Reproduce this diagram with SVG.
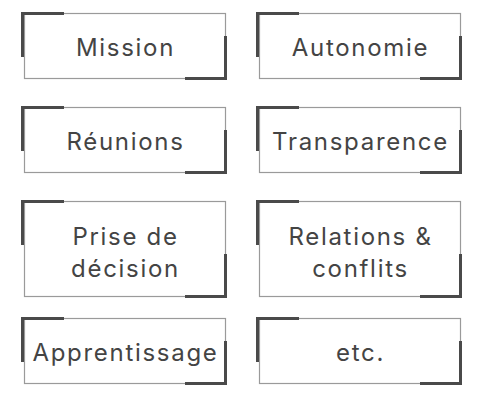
<svg xmlns="http://www.w3.org/2000/svg" width="486" height="407" viewBox="0 0 486 407">
<defs>
<style>
.frame{fill:#fff;stroke:#9a9a9a;stroke-width:1.2}
.corner{fill:none;stroke:#4a4a4a;stroke-width:3;stroke-linecap:butt}
.label{font-family:Inter,"Noto Sans",sans-serif;font-size:24px;letter-spacing:1.7px;fill:#444;text-anchor:middle}
</style>
</defs>
<rect width="486" height="407" fill="#fff"/>
<g id="node-mission">
<rect class="frame" x="24.5" y="13.5" width="201" height="65"/>
<path class="corner" d="M22.5 57V13.5H64"/>
<path class="corner" d="M225.5 36V78.5H185"/>
<text class="label" x="125.5" y="56">Mission</text>
</g>
<g id="node-autonomie">
<rect class="frame" x="259.5" y="13.5" width="201" height="65"/>
<path class="corner" d="M257.5 57V13.5H299"/>
<path class="corner" d="M460.5 36V78.5H420"/>
<text class="label" x="360.5" y="56">Autonomie</text>
</g>
<g id="node-reunions">
<rect class="frame" x="24.5" y="107.5" width="201" height="65"/>
<path class="corner" d="M22.5 151V107.5H64"/>
<path class="corner" d="M225.5 130V172.5H185"/>
<text class="label" x="125.5" y="150">Réunions</text>
</g>
<g id="node-transparence">
<rect class="frame" x="259.5" y="107.5" width="201" height="65"/>
<path class="corner" d="M257.5 151V107.5H299"/>
<path class="corner" d="M460.5 130V172.5H420"/>
<text class="label" x="360.5" y="150">Transparence</text>
</g>
<g id="node-prise-de-decision">
<rect class="frame" x="24.5" y="201.5" width="201" height="95"/>
<path class="corner" d="M22.5 245V201.5H64"/>
<path class="corner" d="M225.5 254V296.5H185"/>
<text class="label" x="125.5" y="245">Prise de</text>
<text class="label" x="125.5" y="276.5">décision</text>
</g>
<g id="node-relations-conflits">
<rect class="frame" x="259.5" y="201.5" width="201" height="95"/>
<path class="corner" d="M257.5 245V201.5H299"/>
<path class="corner" d="M460.5 254V296.5H420"/>
<text class="label" x="360.5" y="245">Relations &amp;</text>
<text class="label" x="360.5" y="276.5">conflits</text>
</g>
<g id="node-apprentissage">
<rect class="frame" x="24.5" y="318.5" width="201" height="65"/>
<path class="corner" d="M22.5 362V318.5H64"/>
<path class="corner" d="M225.5 341V383.5H185"/>
<text class="label" x="125.5" y="361">Apprentissage</text>
</g>
<g id="node-etc">
<rect class="frame" x="259.5" y="318.5" width="201" height="65"/>
<path class="corner" d="M257.5 362V318.5H299"/>
<path class="corner" d="M460.5 341V383.5H420"/>
<text class="label" x="360.5" y="361">etc.</text>
</g>
<g id="connectors"/>
</svg>
